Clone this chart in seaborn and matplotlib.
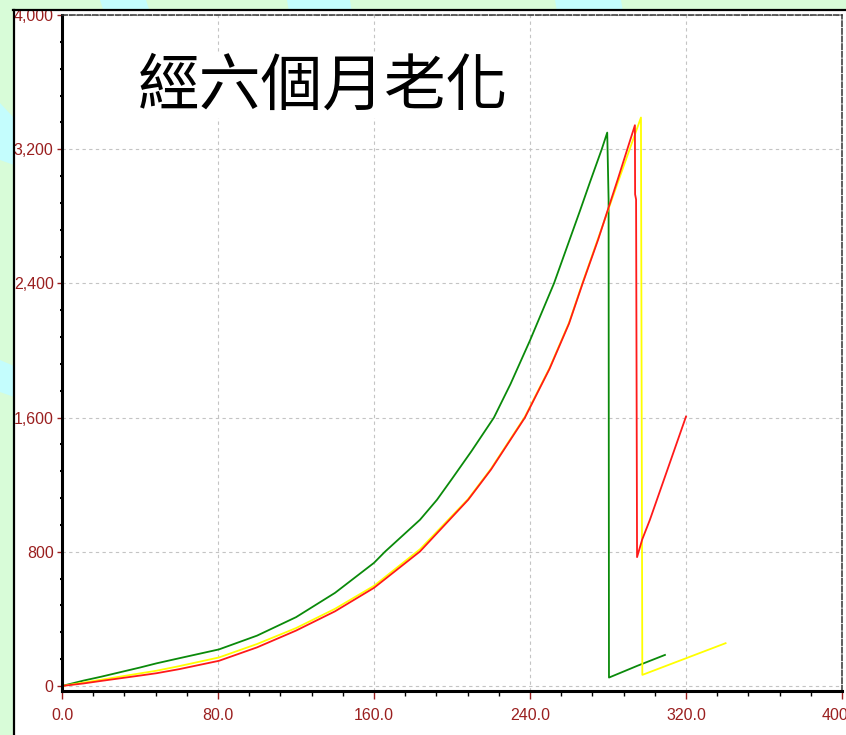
import numpy as np
import pandas as pd
import matplotlib
matplotlib.use("Agg")
import matplotlib.pyplot as plt
import seaborn as sns
from matplotlib.patches import Rectangle, Polygon
from matplotlib.lines import Line2D
from matplotlib.ticker import MultipleLocator, FuncFormatter

# ---- load-displacement traces (three specimens) ----
green_x = [0, 11, 20, 40, 48.5, 60, 80.5, 100, 120, 140, 160, 165.6, 183.6, 192.3,
           200, 210, 221.5, 230, 240, 252.3, 258.3, 265.6, 270.8, 276.8, 279.6,
           280.3, 280.5, 295, 309.2]
green_y = [0, 32, 55, 110, 135, 165, 218, 300, 410, 555, 734, 800, 991, 1110,
           1235, 1400, 1600, 1800, 2060, 2400, 2595, 2832, 3005, 3200, 3299,
           2900, 50, 120, 185]

red_x = [0, 11, 20, 40, 48.5, 60, 80.5, 100, 120, 140, 160, 183.6, 208.3, 220,
         237.4, 250, 260, 267, 275, 285, 293.8, 293.9, 294.4, 294.9, 297.5,
         301.5, 320]
red_y = [0, 15, 30, 62, 76, 100, 150, 230, 330, 445, 585, 802, 1110, 1290,
         1600, 1890, 2160, 2400, 2663, 3020, 3343, 2931, 2900, 768, 872,
         991, 1606]

yellow_x = [0, 11, 20, 40, 48.5, 60, 80.5, 100, 120, 140, 160, 183.6, 208.3, 220,
            237.4, 250, 260, 267, 275, 285, 296.9, 297.6, 340.3]
yellow_y = [0, 20, 37, 75, 91, 118, 170, 250, 345, 460, 597, 815, 1115, 1295,
            1605, 1895, 2165, 2405, 2670, 3000, 3389, 66, 255]

title_text = "經六個月老化"
x_ticks = [0, 80, 160, 240, 320, 400]
y_ticks = [0, 800, 1600, 2400, 3200, 4000]

frames = []
for name, xs, ys in [("green", green_x, green_y),
                     ("yellow", yellow_x, yellow_y),
                     ("red", red_x, red_y)]:
    frames.append(pd.DataFrame({"x": xs, "y": ys, "sample": name}))
df = pd.concat(frames, ignore_index=True)

W, H = 846, 735
fig = plt.figure(figsize=(W / 100, H / 100), dpi=100)
fig.patch.set_facecolor("#d8fcd8")

# slide background decoration
def px_poly(pts, color):
    return Polygon([(x / W, 1 - y / H) for x, y in pts], closed=True,
                   transform=fig.transFigure, facecolor=color,
                   edgecolor="none", zorder=-3)

cyan = "#c4fdfd"
for pts in [[(100, 0), (146, 0), (150, 12), (104, 12)],
            [(287, 0), (350, 0), (352, 12), (289, 12)],
            [(555, 0), (621, 0), (623, 12), (557, 12)],
            [(0, 103), (14, 118), (14, 165), (0, 160)],
            [(0, 360), (14, 366), (14, 397), (0, 392)]]:
    fig.patches.append(px_poly(pts, cyan))

# white chart panel
panel = Rectangle((13 / W, 0), 1 - 13 / W, 1 - 10 / H, transform=fig.transFigure,
                  facecolor="white", edgecolor="none", zorder=-2)
fig.patches.append(panel)
fig.add_artist(Line2D([13.5 / W, 13.5 / W], [0, 1 - 10 / H], color="black",
                      lw=1.6, transform=fig.transFigure, zorder=5))
fig.add_artist(Line2D([13 / W, 1], [1 - 10 / H, 1 - 10 / H], color="black",
                      lw=1.6, transform=fig.transFigure, zorder=5))

ax = fig.add_axes([62 / W, 44 / H, 780 / W, 676 / H])
ax.set_facecolor("white")

sns.lineplot(data=df, x="x", y="y", hue="sample",
             palette={"green": "#0a8a0a", "yellow": "#ffff00", "red": "#ff1a1a"},
             hue_order=["green", "yellow", "red"],
             estimator=None, sort=False, legend=False, linewidth=1.3, ax=ax)

ax.set_xlim(0, 400)
ax.set_ylim(-30, 4000)
ax.set_xlabel("")
ax.set_ylabel("")

lab_col = "#9a1f1f"
ax.set_xticks(x_ticks)
ax.set_yticks(y_ticks)
ax.xaxis.set_major_formatter(FuncFormatter(lambda v, p: f"{v:.1f}"))
ax.yaxis.set_major_formatter(FuncFormatter(lambda v, p: f"{int(v):,}"))
ax.xaxis.set_minor_locator(MultipleLocator(16))
ax.yaxis.set_minor_locator(MultipleLocator(160))

ax.tick_params(axis="x", which="major", direction="out", length=6, width=1,
               color=lab_col, labelcolor=lab_col, labelsize=11.5, pad=6.5)
ax.tick_params(axis="x", which="minor", direction="out", length=3.6, width=1,
               color="black")
ax.tick_params(axis="y", which="major", direction="out", length=3.5, width=1,
               color=lab_col, labelcolor=lab_col, labelsize=11.5, pad=2.5)
ax.tick_params(axis="y", which="minor", direction="out", length=1.2, width=1.5,
               color="black")
for lbl in ax.get_xticklabels() + ax.get_yticklabels():
    lbl.set_fontfamily("Liberation Sans")

ax.grid(True, which="major", color="#c4c4c4", linestyle=(0, (3, 3)), linewidth=0.8)
ax.set_axisbelow(True)

for side in ["left", "bottom"]:
    ax.spines[side].set_color("black")
    ax.spines[side].set_linewidth(2.2)
for side in ["top", "right"]:
    ax.spines[side].set_color("#333333")
    ax.spines[side].set_linewidth(1.1)
    ax.spines[side].set_linestyle((0, (3.5, 1.5)))

ax.text(39, 3575, title_text, fontsize=44.5, color="black",
        fontfamily=["Noto Sans CJK TC", "DejaVu Sans"], ha="left", va="center",
        bbox=dict(facecolor="white", edgecolor="none", pad=0), zorder=4)

fig.savefig("out.png", dpi=100, facecolor=fig.get_facecolor())
